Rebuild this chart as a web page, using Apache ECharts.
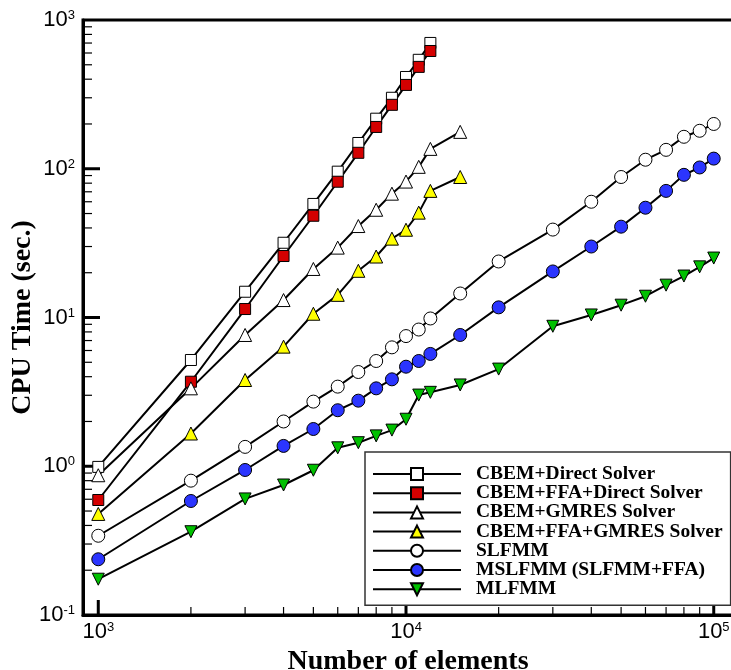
<!DOCTYPE html>
<html>
<head>
<meta charset="utf-8">
<title>CPU time vs number of elements</title>
<script src="https://cdn.jsdelivr.net/npm/echarts@6/dist/echarts.min.js"></script>
<style>
  html, body { margin: 0; padding: 0; background: #fff; }
  #chart { width: 731px; height: 670px; }
</style>
</head>
<body>
<div id="chart"></div>
<script>
// number of elements for each group of runs
var elemsDirect = [1000, 2000, 3000, 4000, 5000, 6000, 7000, 8000, 9000, 10000, 11000, 12000];
var elemsGmres = [1000, 2000, 3000, 4000, 5000, 6000, 7000, 8000, 9000, 10000, 11000, 12000, 15000];
var elemsFmm = [1000, 2000, 3000, 4000, 5000, 6000, 7000, 8000, 9000, 10000, 11000, 12000, 15000,
    20000, 30000, 40000, 50000, 60000, 70000, 80000, 90000, 100000];

// CPU time (sec.)
var cbemDirect = [0.99, 5.18, 14.9, 31.8, 58, 95.6, 149, 217, 300, 414, 540, 701];
var cbemFfaDirect = [0.593, 3.7, 11.4, 25.9, 48.3, 81.8, 128, 191, 269, 366, 484, 619];
var cbemGmres = [0.87, 3.34, 7.63, 13.1, 21.2, 29.5, 41.2, 53, 68, 82, 103, 136, 177];
var cbemFfaGmres = [0.478, 1.66, 3.8, 6.37, 10.6, 14.2, 20.6, 25.7, 33.9, 38.9, 50.7, 71, 88];
var slfmm = [0.341, 0.80, 1.35, 2.0, 2.72, 3.43, 4.3, 5.1, 6.3, 7.5, 8.3, 9.85, 14.5,
    23.8, 39, 60, 88, 115, 134, 164, 180, 200];
var mslfmm = [0.237, 0.584, 0.944, 1.37, 1.78, 2.38, 2.76, 3.34, 3.84, 4.67, 5.1, 5.69, 7.63,
    11.7, 20.4, 30, 40.8, 54.7, 71, 91, 102, 117];
var mlfmm = [0.174, 0.363, 0.603, 0.748, 0.94, 1.33, 1.44, 1.6, 1.75, 2.07, 3.01, 3.14, 3.52,
    4.5, 8.73, 10.4, 12.1, 13.9, 16.5, 19.0, 21.9, 25.1];

var X_MIN = 892, X_MAX = 115500, Y_MIN = 0.1, Y_MAX = 1000;

function pairs(xs, ys) {
    return xs.map(function (x, i) { return [x, ys[i]]; });
}

// 1..9 x 10^k inside (lo, hi); flag 1 marks the decades
function decadeTicks(lo, hi) {
    var out = [];
    for (var e = Math.floor(Math.log10(lo)); e <= Math.ceil(Math.log10(hi)); e++) {
        for (var m = 1; m <= 9; m++) {
            var v = m * Math.pow(10, e);
            if (v > lo * 1.0001 && v < hi * 0.9999) out.push([v, m === 1 ? 1 : 0]);
        }
    }
    return out;
}

function powerLabel(v) {
    var e = Math.log10(v);
    if (Math.abs(e - Math.round(e)) > 1e-6) return '';
    return '10{e|' + Math.round(e) + '}';
}

function line(name, xs, ys, symbol, size, fill, rotate) {
    return {
        name: name,
        type: 'line',
        data: pairs(xs, ys),
        symbol: symbol,
        symbolSize: size,
        symbolRotate: rotate || 0,
        showAllSymbol: true,
        lineStyle: { color: '#000', width: 2 },
        itemStyle: { color: fill, borderColor: '#000', borderWidth: 1 },
        emphasis: { disabled: true },
        z: 3
    };
}

var labelStyle = {
    formatter: powerLabel,
    color: '#000',
    fontFamily: 'Liberation Sans',
    fontSize: 22,
    rich: {
        e: { fontFamily: 'Liberation Sans', fontSize: 13, color: '#000', verticalAlign: 'top' }
    }
};

var xTicks = decadeTicks(X_MIN, X_MAX).map(function (t) { return [t[0], Y_MIN, t[1]]; });
var yTicks = decadeTicks(Y_MIN, Y_MAX).map(function (t) { return [X_MIN, t[0], t[1]]; });

var chart = echarts.init(document.getElementById('chart'));
chart.setOption({
    animation: false,
    backgroundColor: '#fff',
    grid: {
        left: 83, top: 20, width: 650, height: 595,
        containLabel: false, outerBoundsMode: 'none',
        show: true, borderColor: '#000', borderWidth: 3
    },
    xAxis: {
        type: 'log', logBase: 10, min: X_MIN, max: X_MAX,
        name: 'Number of elements', nameLocation: 'middle', nameGap: 26,
        nameTextStyle: { fontFamily: 'Liberation Serif', fontWeight: 'bold', fontSize: 28, color: '#000' },
        axisLine: { lineStyle: { color: '#000', width: 3 } },
        axisTick: { show: false },
        splitLine: { show: false },
        axisLabel: Object.assign({ margin: 6 }, labelStyle)
    },
    yAxis: {
        type: 'log', logBase: 10, min: Y_MIN, max: Y_MAX,
        name: 'CPU Time (sec.)', nameLocation: 'middle', nameGap: 46, nameMoveOverlap: false,
        nameTextStyle: { fontFamily: 'Liberation Serif', fontWeight: 'bold', fontSize: 28, color: '#000' },
        axisLine: { lineStyle: { color: '#000', width: 3 } },
        axisTick: { show: false },
        splitLine: { show: false },
        axisLabel: Object.assign({ margin: 8 }, labelStyle)
    },
    legend: {
        orient: 'vertical', left: 365, top: 452,
        itemWidth: 88, itemHeight: 15, itemGap: -0.8,
        padding: [12, 8, 6, 7],
        backgroundColor: '#fff', borderColor: '#333', borderWidth: 1.5,
        textStyle: {
            fontFamily: 'Liberation Serif', fontWeight: 'bold', fontSize: 19.5,
            color: '#000', padding: [0, 0, 0, 10]
        },
        data: ['CBEM+Direct Solver', 'CBEM+FFA+Direct Solver', 'CBEM+GMRES Solver',
            'CBEM+FFA+GMRES Solver', 'SLFMM', 'MSLFMM (SLFMM+FFA)', 'MLFMM']
    },
    series: [
        {
            type: 'custom', silent: true, z: 1,
            data: xTicks, encode: { x: 0, y: 1 },
            renderItem: function (params, api) {
                var p = api.coord([api.value(0), Y_MIN]);
                var major = api.value(2) === 1;
                return {
                    type: 'line',
                    shape: { x1: p[0], y1: p[1], x2: p[0], y2: p[1] - (major ? 15 : 8) },
                    style: { stroke: '#000', lineWidth: major ? 3 : 1.2 }
                };
            }
        },
        {
            type: 'custom', silent: true, z: 1,
            data: yTicks, encode: { x: 0, y: 1 },
            renderItem: function (params, api) {
                var p = api.coord([X_MIN, api.value(1)]);
                var major = api.value(2) === 1;
                return {
                    type: 'line',
                    shape: { x1: p[0], y1: p[1], x2: p[0] + (major ? 17 : 9), y2: p[1] },
                    style: { stroke: '#000', lineWidth: major ? 3 : 1.2 }
                };
            }
        },
        line('CBEM+Direct Solver', elemsDirect, cbemDirect, 'rect', 11, '#fff'),
        line('CBEM+FFA+Direct Solver', elemsDirect, cbemFfaDirect, 'rect', 11, '#d40000'),
        line('CBEM+GMRES Solver', elemsGmres, cbemGmres, 'triangle', 13, '#fff'),
        line('CBEM+FFA+GMRES Solver', elemsGmres, cbemFfaGmres, 'triangle', 13, '#ffff00'),
        line('SLFMM', elemsFmm, slfmm, 'circle', 13, '#fff'),
        line('MSLFMM (SLFMM+FFA)', elemsFmm, mslfmm, 'circle', 13, '#2b35ff'),
        line('MLFMM', elemsFmm, mlfmm, 'triangle', 12, '#00c000', 180)
    ]
});
</script>
</body>
</html>
